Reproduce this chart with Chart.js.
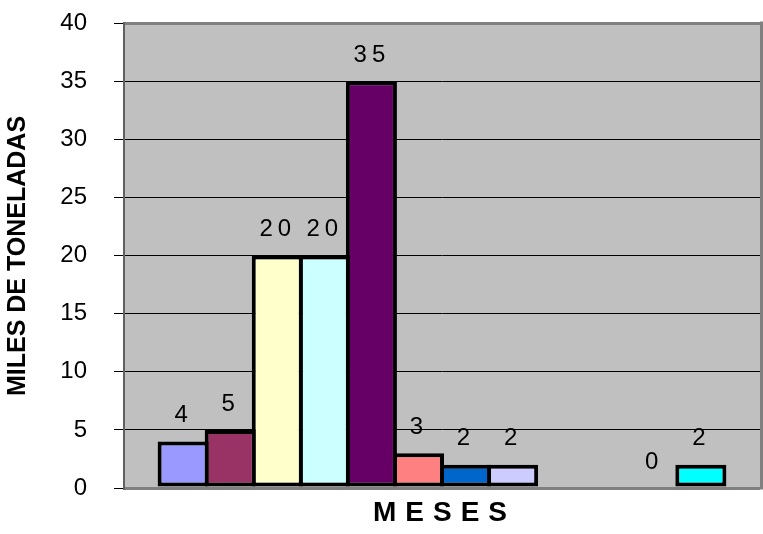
<!DOCTYPE html>
<html><head><meta charset="utf-8">
<script src="https://cdn.jsdelivr.net/npm/chart.js@4.4.1/dist/chart.umd.min.js"></script>
<style>html,body{margin:0;padding:0;background:#fff;}canvas{display:block;}</style>
</head><body>
<canvas id="c" width="763" height="534"></canvas>
<script>
const categories = [''];
const seriesNames = ['Enero','Febrero','Marzo','Abril','Mayo','Junio','Julio','Agosto','Septiembre','Octubre','Noviembre','Diciembre'];
const seriesValues = [4, 5, 20, 20, 35, 3, 2, 2, null, null, 0, 2];
const seriesColors = ['#9999FF','#993366','#FFFFCC','#CCFFFF','#660066','#FF8080','#0066CC','#CCCCFF','#000080','#FF00FF','#FFFF00','#00FFFF'];
const yMin = 0, yMax = 40, yStep = 5;
const yTitle = 'MILES DE TONELADAS';
const xTitle = 'MESES';

const FONT = "'Liberation Sans', Arial, sans-serif";

const datasets = seriesNames.map((name, i) => ({
  label: name,
  data: [seriesValues[i]],
  backgroundColor: seriesColors[i],
  borderColor: '#000000',
  borderWidth: 4,
  borderSkipped: false,
  categoryPercentage: 0.888,
  barPercentage: 1.085
}));

const decor = {
  id: 'decor',
  beforeDraw(chart) {
    const {ctx, chartArea: a} = chart;
    ctx.save();
    ctx.fillStyle = '#C0C0C0';
    ctx.fillRect(a.left, a.top, a.right - a.left, a.bottom - a.top);
    ctx.restore();
  },
  afterDatasetsDraw(chart) {
    const {ctx, chartArea: a} = chart;
    const ys = chart.scales.y;
    ctx.save();
    ctx.strokeStyle = '#808080';
    ctx.lineWidth = 3;
    ctx.beginPath();
    ctx.moveTo(a.right + 1.5, a.top - 1.5);
    ctx.lineTo(a.right + 1.5, a.bottom + 1.5);
    ctx.stroke();
    const ls = 5;
    ctx.font = '24px ' + FONT;
    ctx.fillStyle = '#000';
    ctx.textAlign = 'center';
    ctx.textBaseline = 'middle';
    try { ctx.letterSpacing = ls + 'px'; } catch (e) {}
    chart.data.datasets.forEach((ds, i) => {
      const meta = chart.getDatasetMeta(i);
      meta.data.forEach((bar, j) => {
        const v = ds.data[j];
        if (v === null || v === undefined) return;
        const y = ys.getPixelForValue(v);
        ctx.fillText(String(v), bar.x + ls / 2 - 2, y - 26);
      });
    });
    ctx.restore();
  },
  afterDraw(chart) {
    const {ctx, chartArea: a} = chart;
    ctx.save();
    ctx.fillStyle = '#000';
    ctx.textAlign = 'center';
    ctx.textBaseline = 'middle';
    ctx.font = 'bold 25px ' + FONT;
    ctx.translate(18, 256);
    ctx.rotate(-Math.PI / 2);
    ctx.fillText(yTitle, 0, 0);
    ctx.restore();
    ctx.save();
    ctx.fillStyle = '#000';
    ctx.textAlign = 'center';
    ctx.textBaseline = 'middle';
    ctx.font = 'bold 28px ' + FONT;
    const ls = 9;
    try { ctx.letterSpacing = ls + 'px'; } catch (e) {}
    ctx.fillText(xTitle, (a.left + a.right) / 2 + ls / 2 - 2, 513);
    ctx.restore();
  }
};

new Chart(document.getElementById('c'), {
  type: 'bar',
  data: { labels: categories, datasets },
  options: {
    responsive: false,
    animation: false,
    layout: { padding: { top: 23, right: 3, left: 0, bottom: 0 } },
    plugins: { legend: { display: false }, tooltip: { enabled: false }, title: { display: false } },
    scales: {
      x: {
        grid: { display: false },
        border: { display: false },
        ticks: { display: false },
        afterFit(s) { s.height = 46; s.paddingLeft = 0; s.paddingRight = 0; }
      },
      y: {
        min: yMin, max: yMax,
        ticks: { stepSize: yStep, color: '#000', padding: 27, font: { family: FONT, size: 24 } },
        grid: {
          color: c => (c.tick && (c.tick.value === yMax || c.tick.value === yMin)) ? '#808080' : '#000000',
          lineWidth: c => (c.tick && (c.tick.value === yMax || c.tick.value === yMin)) ? 3 : 1,
          tickColor: '#000',
          tickLength: 10,
          tickWidth: 1
        },
        border: { display: true, color: '#606060', width: 2 },
        afterFit(s) { s.width = 124; s.paddingTop = 0; s.paddingBottom = 0; }
      }
    }
  },
  plugins: [decor]
});
</script>
</body></html>
